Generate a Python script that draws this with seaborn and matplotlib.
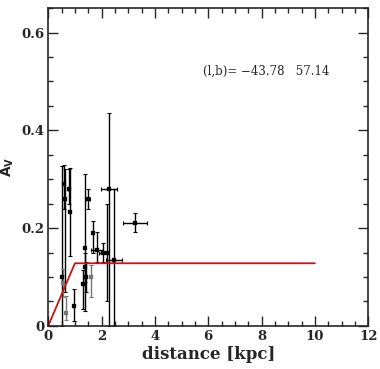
import numpy as np
import pandas as pd
import seaborn as sns
import matplotlib
matplotlib.use("Agg")
import matplotlib.pyplot as plt
from matplotlib.ticker import MultipleLocator

# extinction measurements along the line of sight
dist = [0.52, 0.55, 0.58, 0.62, 0.68, 0.78, 0.82, 0.95, 1.32, 1.37, 1.38,
        1.40, 1.48, 1.60, 1.68, 1.83, 2.05, 2.20, 2.28, 2.45, 3.25]
av = [0.10, 0.088, 0.29, 0.26, 0.027, 0.28, 0.233, 0.04, 0.085, 0.16, 0.12,
      0.10, 0.26, 0.10, 0.19, 0.156, 0.15, 0.15, 0.28, 0.135, 0.211]
dist_err = [0.0, 0.03, 0.0, 0.0, 0.0, 0.05, 0.0, 0.0, 0.0, 0.0, 0.0,
            0.0, 0.08, 0.0, 0.0, 0.22, 0.15, 0.0, 0.3, 0.3, 0.45]
av_lo = [0.10, 0.028, 0.05, 0.19, 0.015, 0.03, 0.09, 0.03, 0.05, 0.13, 0.03,
         0.03, 0.02, 0.04, 0.04, 0.025, 0.02, 0.10, 0.28, 0.135, 0.02]
av_hi = [0.226, 0.028, 0.04, 0.06, 0.035, 0.04, 0.09, 0.035, 0.03, 0.15, 0.03,
         0.03, 0.02, 0.025, 0.025, 0.035, 0.02, 0.10, 0.156, 0.145, 0.02]
grey = [False, True, False, False, True, False, False, False, False, False, False,
        False, False, True, False, False, False, False, False, False, False]

# model extinction profile
model_d = [0.0, 1.0, 10.0]
model_av = [0.0, 0.128, 0.128]

sns.set_style("ticks")
plt.rcParams['font.family'] = ['DejaVu Serif']

fig = plt.figure(figsize=(3.8, 3.69), dpi=100)
ax = fig.add_axes([0.127, 0.117, 0.842, 0.861])

df = pd.DataFrame({"d": dist, "av": av, "xe": dist_err, "lo": av_lo,
                   "hi": av_hi, "grey": grey})
for g, col in [(False, "black"), (True, "#777777")]:
    sub = df[df.grey == g]
    ax.errorbar(sub.d, sub.av, xerr=sub.xe, yerr=[sub.lo, sub.hi], fmt="none",
                ecolor=col, elinewidth=1.0, capsize=1.5, capthick=0.8)
    sns.scatterplot(x="d", y="av", data=sub, marker="s", s=6, color=col,
                    edgecolor=col, ax=ax, zorder=3)

sns.lineplot(x=model_d, y=model_av, color="#cc1111", lw=1.3, ax=ax,
             estimator=None, sort=False)

ax.set_xlim(0, 12)
ax.set_ylim(0, 0.65)
ax.xaxis.set_minor_locator(MultipleLocator(0.5))
ax.yaxis.set_minor_locator(MultipleLocator(0.05))
ax.tick_params(which="both", direction="in", top=True, right=True, width=1.0)
ax.tick_params(which="major", length=7, labelsize=9.5, pad=3)
ax.tick_params(which="minor", length=3.5)
ax.set_xticks([0, 2, 4, 6, 8, 10, 12])
ax.set_xticklabels(["0", "2", "4", "6", "8", "10", "12"], fontweight="bold")
ax.set_yticks([0, 0.2, 0.4, 0.6])
ax.set_yticklabels(["0", "0.2", "0.4", "0.6"], fontweight="bold")
for s in ax.spines.values():
    s.set_linewidth(1.2)

ax.set_xlabel("distance [kpc]", fontsize=12, fontweight="bold", labelpad=2)
ax.set_ylabel(r"$\mathbf{A_V}$", fontsize=10)
ax.yaxis.set_label_coords(-0.1, 0.5)
ax.text(5.8, 0.52, "(l,b)= \u221243.78   57.14", fontsize=8.5, va="center")

fig.savefig("out.png", dpi=100)
